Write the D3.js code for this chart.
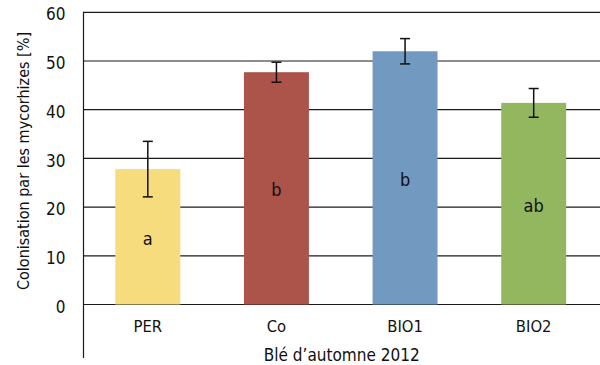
<!DOCTYPE html>
<html><head><meta charset="utf-8">
<script src="https://cdn.jsdelivr.net/npm/d3@7"></script>
<style>body{margin:0;background:#fff}svg{display:block}text{font-family:"Liberation Sans Narrow","DejaVu Sans Condensed",Arial,sans-serif;fill:#111}</style>
</head><body>
<svg id="c" width="600" height="365"></svg>
<script>
const categories = ["PER", "Co", "BIO1", "BIO2"];
const values = [27.8, 47.7, 52.0, 41.4];
const errors = [5.7, 2.05, 2.6, 2.95];
const letters = ["a", "b", "b", "ab"];
const colors = ["#F6DC7C", "#AC534A", "#7299BF", "#93B75E"];
const yTicks = [0, 10, 20, 30, 40, 50, 60];
const xTitle = "Blé d’automne 2012";
const yTitle = "Colonisation par les mycorhizes [%]";

const FONT = '"DejaVu Sans Condensed",Arial,sans-serif';
const svg = d3.select("#c");
const L = 83.5, R = 598, T = 12.3, B = 304.5;
const x = d3.scaleBand().domain(categories).range([L, R]).paddingInner(0.495).paddingOuter(0.2475);
const y = d3.scaleLinear().domain([0, 60]).range([B, T]);

// gridlines
svg.append("g").selectAll("line").data(yTicks).join("line")
  .attr("x1", L).attr("x2", 600).attr("y1", d => y(d)).attr("y2", d => y(d))
  .attr("stroke", "#1a1a1a").attr("stroke-width", 1.2);

// bars
svg.append("g").selectAll("rect").data(categories).join("rect")
  .attr("x", d => x(d)).attr("width", x.bandwidth())
  .attr("y", (d, i) => y(values[i])).attr("height", (d, i) => B - y(values[i]))
  .attr("fill", (d, i) => colors[i]);

// y axis
const yAxis = d3.axisLeft(y).tickValues(yTicks).tickSize(0).tickPadding(18);
const ga = svg.append("g").attr("transform", `translate(${L},0)`).call(yAxis);
ga.select(".domain").remove();
ga.selectAll("text").attr("font-size", 17).attr("font-family", FONT).attr("fill", "#111").attr("dy", "0.45em");
svg.append("line").attr("x1", L).attr("x2", L).attr("y1", T - 0.6).attr("y2", 358)
  .attr("stroke", "#1a1a1a").attr("stroke-width", 1.2);

// x axis labels
const xAxis = d3.axisBottom(x).tickSize(0).tickPadding(16);
const gx = svg.append("g").attr("transform", `translate(0,${B})`).call(xAxis);
gx.select(".domain").remove();
gx.selectAll("text").attr("font-size", 16.5).attr("font-family", FONT).attr("fill", "#111");

// error bars
const eg = svg.append("g").attr("stroke", "#111").attr("stroke-width", 1.5);
categories.forEach((c, i) => {
  const cx = x(c) + x.bandwidth() / 2;
  eg.append("line").attr("x1", cx).attr("x2", cx).attr("y1", y(values[i] + errors[i])).attr("y2", y(values[i] - errors[i]));
  [values[i] + errors[i], values[i] - errors[i]].forEach(v => {
    eg.append("line").attr("x1", cx - 5).attr("x2", cx + 5).attr("y1", y(v)).attr("y2", y(v));
  });
});

// letters
svg.append("g").selectAll("text").data(categories).join("text")
  .attr("x", d => x(d) + x.bandwidth() / 2)
  .attr("y", (d, i) => y(values[i] / 2) + 8)
  .attr("text-anchor", "middle").attr("font-size", 18)
  .text((d, i) => letters[i]);

// titles
svg.append("text").attr("x", (L + R) / 2 + 1).attr("y", 361).attr("text-anchor", "middle")
  .attr("font-size", 17).text(xTitle);
svg.append("text").attr("transform", `translate(29,${(27 + 295) / 2}) rotate(-90)`)
  .attr("text-anchor", "middle").attr("font-size", 16).text(yTitle);
</script>
</body></html>
